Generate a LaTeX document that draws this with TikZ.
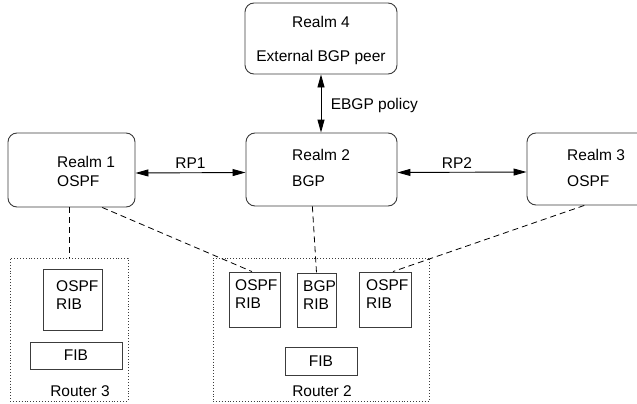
\documentclass[tikz,border=0pt]{standalone}
\usepackage{fontspec}
\setmainfont{Liberation Sans}
\usetikzlibrary{arrows.meta,calc}
\definecolor{lineGray}{RGB}{60,60,60}

\begin{document}
\begin{tikzpicture}[x=1pt,y=-1pt,
		every node/.style={font=\fontsize{15.5}{18}\selectfont},
		realm/.style={draw=lineGray, line width=0.9pt, rounded corners=9pt, inner sep=0pt},
		rib/.style={draw=lineGray, line width=0.9pt, inner sep=0pt},
		router/.style={draw=lineGray, dotted, line width=0.9pt, inner sep=0pt},
		lbl/.style={anchor=base west, inner sep=0pt},
		link/.style={draw=black, line width=0.8pt, dash pattern=on 6pt off 4pt},
		>={Triangle[length=13pt,width=7pt]}]
				\useasboundingbox (0,0) rectangle (637,404);

				% realms
				\draw (321,38.5) node[realm, minimum width=152pt, minimum height=71pt] (realm4) {};
				\draw (71.5,170) node[realm, minimum width=127pt, minimum height=74pt] (realm1) {};
				\draw (321.5,169.5) node[realm, minimum width=151pt, minimum height=73pt] (realm2) {};
				\draw (602.5,169) node[realm, minimum width=151pt, minimum height=72pt] (realm3) {};
				\draw (321,27.5) node[anchor=base, inner sep=0pt] (realm4name) {Realm 4};
				\draw (321,61.5) node[anchor=base, inner sep=0pt] (realm4kind) {External BGP peer};
				\draw (57,167.5) node[lbl] (realm1name) {Realm 1};
				\draw (57,186.5) node[lbl] (realm1kind) {OSPF};
				\draw (292,160.5) node[lbl] (realm2name) {Realm 2};
				\draw (292,186.5) node[lbl] (realm2kind) {BGP};
				\draw (567,160) node[lbl] (realm3name) {Realm 3};
				\draw (567,186.5) node[lbl] (realm3kind) {OSPF};

				% routers
				\draw (69,329.5) node[router, minimum width=118pt, minimum height=143pt] (router3) {};
				\draw (321,329.5) node[router, minimum width=216pt, minimum height=143pt] (router2) {};
				\draw (72.5,299.5) node[rib, minimum width=59pt, minimum height=61pt] (r3ospf) {};
				\draw (76,355.5) node[rib, minimum width=92pt, minimum height=27pt] (r3fib) {FIB};
				\draw (254.5,299.5) node[rib, minimum width=51pt, minimum height=55pt] (r2ospfa) {};
				\draw (316.5,300) node[rib, minimum width=39pt, minimum height=54pt] (r2bgp) {};
				\draw (385,299.5) node[rib, minimum width=52pt, minimum height=55pt] (r2ospfb) {};
				\draw (321,361) node[rib, minimum width=72pt, minimum height=28pt] (r2fib) {FIB};
				\draw (56,291.5) node[lbl] {OSPF};
				\draw (56,309.5) node[lbl] {RIB};
				\draw (235,290.5) node[lbl] {OSPF};
				\draw (235,308.5) node[lbl] {RIB};
				\draw (303,291) node[lbl] {BGP};
				\draw (303,309) node[lbl] {RIB};
				\draw (366,290.5) node[lbl] {OSPF};
				\draw (366,308.5) node[lbl] {RIB};
				\draw (80,396.5) node[anchor=base, inner sep=0pt] (router3name) {Router 3};
				\draw (322,396) node[anchor=base, inner sep=0pt] (router2name) {Router 2};

				\path[<->, line width=0.9pt]
				([yshift=-3pt]realm1.east) edge node[above] {RP1} ([yshift=-3pt]realm2.west)
				([yshift=-3pt]realm2.east) edge node[above, xshift=-5pt] {RP2} ([yshift=-3pt]realm3.west)
				(realm4.south) edge node[right, xshift=6pt, yshift=-2pt] {EBGP policy} (realm4.south |- realm2.north)
				;

				\draw[link] ($(realm1.south west)!.48!(realm1.south east)$) coordinate (d1) -- (d1 |- router3.north);
				\draw[link] ($(realm1.south west)!.74!(realm1.south east)$) -- ($(r2ospfa.north west)!.45!(r2ospfa.north east)$);
				\draw[link] ($(realm2.south west)!.44!(realm2.south east)$) -- (r2bgp.north);
				\draw[link] ($(realm3.south west)!.38!(realm3.south east)$) -- ($(r2ospfb.north west)!.65!(r2ospfb.north east)$);
			\end{tikzpicture}
\end{document}
